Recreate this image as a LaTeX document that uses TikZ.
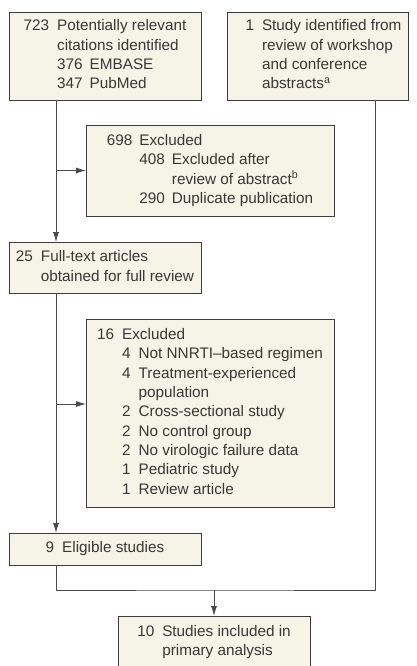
\documentclass[tikz,border=0pt]{standalone}
\usepackage{fontspec}
\setmainfont{Liberation Sans}
\usepackage{tikz}
\usepackage{xcolor}
\usetikzlibrary{positioning,arrows.meta}

\definecolor{boxfill}{HTML}{F6F3E7}
\definecolor{boxline}{HTML}{3C3C3C}
\definecolor{wire}{HTML}{4A4A4A}
\definecolor{txt}{HTML}{383838}
\newcommand{\boxfont}{\fontsize{15.3}{19.3}\selectfont}

\begin{document}
\begin{tikzpicture}[
  x=1pt, y=1pt,
  box/.style={draw=boxline, fill=boxfill, line width=0.9pt, text=txt, inner sep=0pt, outer sep=0pt, font=\boxfont},
  wide/.style={box, minimum width=248pt},
  narrow/.style={box, minimum width=192pt},
  link/.style={draw=wire, line width=0.9pt},
  >={Latex[length=10pt,width=6pt]}
]
  \useasboundingbox (0,0) rectangle (417,-666);
  \clip (0,0) rectangle (417,-666);

  % Sources
  \node[narrow, minimum height=88pt, anchor=north west] (cites) at (9,-12) {%
    \begin{tabular}{@{}r@{\hspace{8pt}}l@{}}
      723 & Potentially relevant\\
          & citations identified\\
          & 376\hspace{7pt}EMBASE\\
          & 347\hspace{7pt}PubMed
    \end{tabular}};
  \node[box, minimum width=181pt, minimum height=88pt, right=26pt of cites] (abstr) {%
    \begin{tabular}{@{\hspace{12pt}}r@{\hspace{8pt}}l@{}}
      1 & Study identified from\\
        & review of workshop\\
        & and conference\\
        & abstracts\textsuperscript{a}
    \end{tabular}};

  % Screening
  \node[wide, minimum height=91pt, below right=25pt and 77pt of cites.south west] (excla) {%
    \begin{tabular}{@{}r@{\hspace{7pt}}r@{\hspace{7pt}}l@{}}
      698 & \multicolumn{2}{@{}l@{}}{Excluded}\\
          & 408 & Excluded after\\
          &     & review of abstract\textsuperscript{b}\\
          & 290 & Duplicate publication
    \end{tabular}};
  \node[narrow, minimum height=51pt, below=142pt of cites] (full) {%
    \begin{tabular}{@{}r@{\hspace{8pt}}l@{}}
      25 & Full-text articles\\
         & obtained for full review
    \end{tabular}};

  % Full-text review
  \node[wide, minimum height=188pt, below right=26pt and 77pt of full.south west] (exclb) {%
    \begin{tabular}{@{}r@{\hspace{8pt}}r@{\hspace{8pt}}l@{}}
      16 & \multicolumn{2}{@{}l@{}}{Excluded}\\
         & 4 & Not NNRTI–based regimen\\
         & 4 & Treatment-experienced\\
         &   & population\\
         & 2 & Cross-sectional study\\
         & 2 & No control group\\
         & 2 & No virologic failure data\\
         & 1 & Pediatric study\\
         & 1 & Review article
    \end{tabular}};
  \node[narrow, minimum height=32pt, below=240pt of full] (elig) {9\hspace{8pt}Eligible studies};
  \node[narrow, minimum height=52pt, below right=51pt and 109pt of elig.south west] (incl) {%
    \begin{tabular}{@{}r@{\hspace{8pt}}l@{}}
      10 & Studies included in\\
         & primary analysis
    \end{tabular}};

  % Helper points
  \coordinate (spine) at ([xshift=47pt]cites.south west);
  \coordinate (inb) at ([yshift=9pt]exclb.west);
  \coordinate (join) at ([yshift=26pt]incl.north);

  % Main flow
  \draw[link, ->] (spine) -- (full.north -| spine);
  \draw[link, ->] (spine |- excla.west) -- (excla.west);
  \draw[link, ->] ([xshift=47pt]full.south west) -- ([xshift=47pt]elig.north west);
  \draw[link, ->] (spine |- inb) -- (inb);

  % Merge
  \draw[link] ([xshift=47pt]elig.south west) |- (join) -| ([xshift=-33pt]abstr.south east);
  \draw[link, ->] (join) -- (incl.north);

\end{tikzpicture}
\end{document}
